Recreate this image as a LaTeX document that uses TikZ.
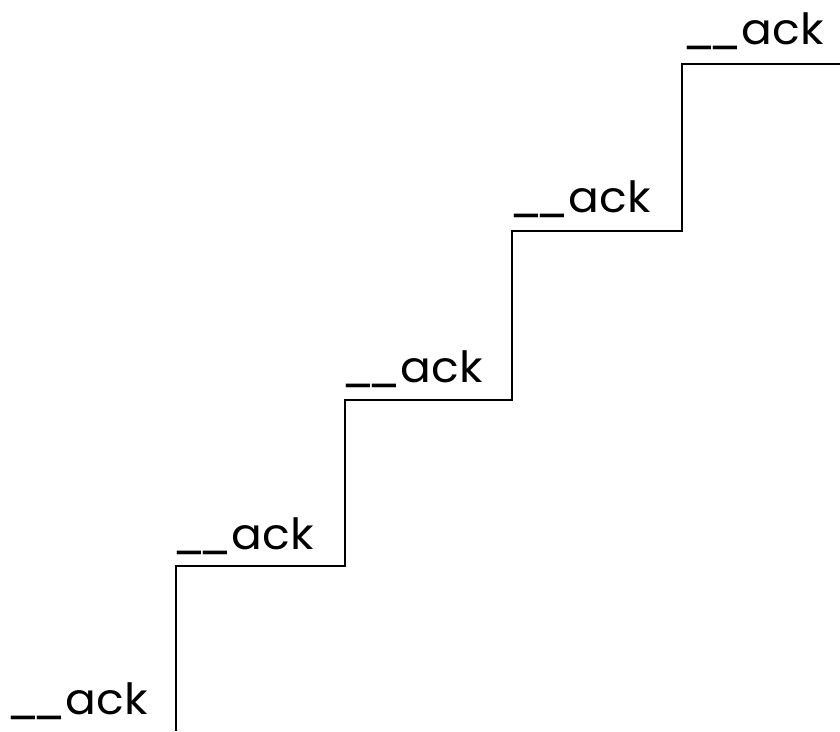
\documentclass[tikz,border=0pt]{standalone}
\usepackage{fontspec}
\setmainfont{Poppins}
\newfontfamily\lblfont[FakeStretch=1.06]{Poppins}
\newcommand{\uscore}{\_\kern-7.5pt\_}
\begin{document}
\begin{tikzpicture}[x=1pt,y=-1pt,
  lbl/.style={anchor=base west,inner sep=0pt,font=\lblfont\fontsize{43}{43}\selectfont},
  stair/.style={line width=2.9pt,line join=miter}]
\useasboundingbox (0,0) rectangle (840,731);
\coordinate (p0) at (176,731);
\coordinate (p1) at (176,566);
\coordinate (p2) at (345,566);
\coordinate (p3) at (345,400);
\coordinate (p4) at (512,400);
\coordinate (p5) at (512,231);
\coordinate (p6) at (682,231);
\coordinate (p7) at (682,64);
\coordinate (p8) at (840,64);
\draw[stair] (p0) -- (p1) -- (p2) -- (p3) -- (p4) -- (p5) -- (p6) -- (p7) -- (p8);
\node[lbl] (l1) at (6,714) {\uscore ack};
\node[lbl] (l2) at (172,549) {\uscore ack};
\node[lbl] (l3) at (341,382) {\uscore ack};
\node[lbl] (l4) at (509,212) {\uscore ack};
\node[lbl] (l5) at (682,44) {\uscore ack};
\end{tikzpicture}
\end{document}
